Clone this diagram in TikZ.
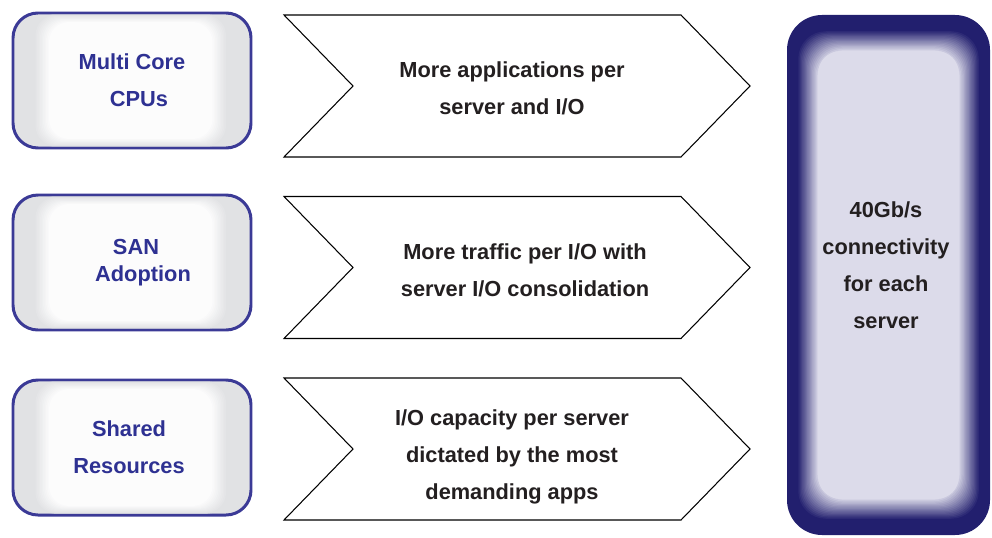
\documentclass[tikz,border=0pt]{standalone}
\usepackage{fontspec}
\setmainfont{Liberation Sans}
\usetikzlibrary{calc}

\definecolor{navy}{HTML}{221F6E}
\definecolor{boxblue}{HTML}{3B3A96}
\definecolor{txtblue}{HTML}{2E3192}
\definecolor{lavender}{HTML}{DCDBEA}
\definecolor{boxgrey}{HTML}{E1E2E4}
\definecolor{inkgrey}{HTML}{231F20}

\begin{document}
\begin{tikzpicture}[thick, font=\fontsize{12.4}{21}\selectfont\bfseries]
    \tikzstyle{src}=[rounded corners=0.5cm, draw=boxblue, line width=1.7pt, fill=boxgrey, minimum width=4.76cm, minimum height=2.7cm]
    \tikzstyle{lbl}=[align=center, text=txtblue]
    \tikzstyle{arr}=[draw=black, line width=0.6pt, fill=white]
    \tikzstyle{msg}=[align=center, text=inkgrey]

    \useasboundingbox (0,0) rectangle (19.84cm,-10.74cm);

    % drivers on the left
    \foreach \y/\name/\dx/\txt in {-1.61/cpu/0/{Multi Core\\\hspace*{0.28cm}CPUs}, -5.25/san/0.08/{SAN\\[-0.19cm]\hspace*{0.28cm}Adoption}, -8.95/shared/-0.06/{Shared\\Resources}} {
        \node[src] (\name) at (2.64cm, \y cm) {};
        \foreach \i [evaluate=\i as \p using 100-9*\i] in {0,...,10}
            \fill[boxgrey!\p!white, rounded corners=0.4cm] ($(\name.north west)+({0.45+0.03*\i},{-0.06-0.015*\i})$) rectangle ($(\name.south east)+({-0.5-0.03*\i},{0.06+0.015*\i})$);
        \node[lbl] (\name-txt) at ($(\name)+(\dx,0)$) {\txt};
    }

    % chevrons in the middle
    \foreach \y/\name/\dx/\dy/\txt in {-1.72/apps/-0.1/-0.05/{More applications per\\server and I/O}, -5.35/traffic/0.16/-0.05/{More traffic per I/O with\\server I/O consolidation}, -8.98/demand/-0.1/-0.16/{I/O capacity per server\\dictated by the most\\demanding apps}} {
        \coordinate (\name-c) at (10.34cm, \y cm);
        \draw[arr] ($(\name-c)+(-4.66,1.42)$) -- ++(1.38,-1.42) -- ++(-1.38,-1.42) -- ++(7.94,0) -- ++(1.38,1.42) -- ++(-1.38,1.42) -- cycle;
        \node[msg] (\name) at ($(\name-c)+(\dx,\dy)$) {\txt};
    }

    % result box on the right
    \coordinate (goalNW) at (15.74cm, -0.3cm);
    \coordinate (goalSE) at (19.8cm, -10.7cm);
    \fill[navy, rounded corners=0.7cm] (goalNW) rectangle (goalSE);
    \foreach \i [evaluate=\i as \p using 100-6*\i] in {1,...,16}
        \fill[navy!\p!lavender, rounded corners=0.55cm] ($(goalNW)+({0.2+0.025*\i},{-0.3-0.025*\i})$) rectangle ($(goalSE)+({-0.2-0.025*\i},{0.3+0.025*\i})$);
    \fill[lavender, rounded corners=0.45cm] ($(goalNW)+(0.62,-0.72)$) rectangle ($(goalSE)+(-0.62,0.72)$);
    \node[msg] (goal) at (17.72cm, -5.3cm) {40Gb/s\\connectivity\\for each\\server};
\end{tikzpicture}
\end{document}
